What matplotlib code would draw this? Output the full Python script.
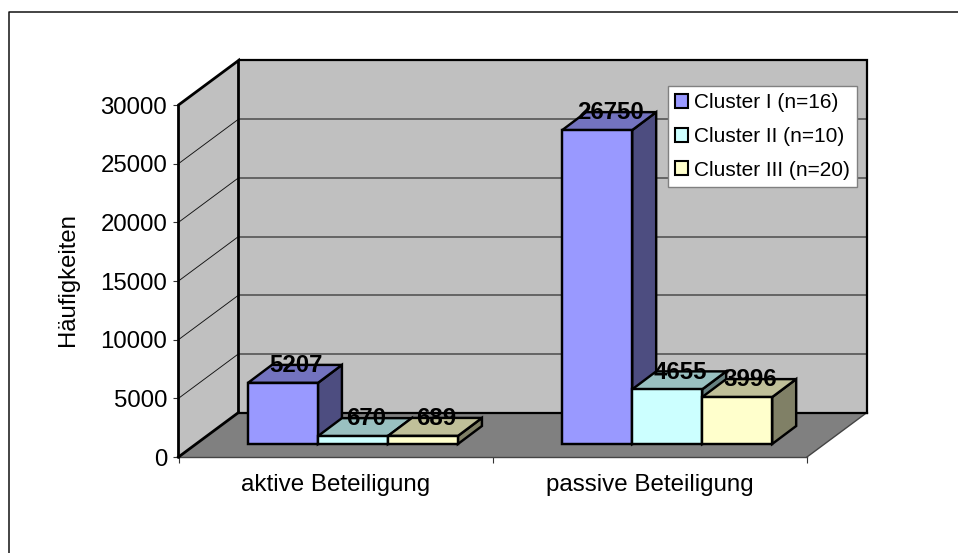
import numpy as np
import matplotlib
matplotlib.use("Agg")
import matplotlib.pyplot as plt
from matplotlib.lines import Line2D
from matplotlib.patches import Patch, Polygon

plt.rcParams["font.family"] = ["Liberation Sans", "DejaVu Sans"]

categories = ["aktive Beteiligung", "passive Beteiligung"]
series_names = ["Cluster I (n=16)", "Cluster II (n=10)", "Cluster III (n=20)"]
cluster_1 = [5207, 26750]
cluster_2 = [670, 4655]
cluster_3 = [689, 3996]
y_ticks = [0, 5000, 10000, 15000, 20000, 25000, 30000]

# front, top, side shades for each series
front_cols = ["#9999FF", "#CCFFFF", "#FFFFCC"]
top_cols = ["#7373BF", "#99C0C0", "#C0C099"]
side_cols = ["#4D4D80", "#668080", "#808066"]

W, H = 958, 553
fig = plt.figure(figsize=(W / 100, H / 100), dpi=100, facecolor="white")
ax = fig.add_axes([178.5 / W, (H - 457) / H, 628.5 / W, 352 / H])
ax.set_xlim(0, 2)
ax.set_ylim(0, 30000)
ax.patch.set_visible(False)
for spine in ax.spines.values():
    spine.set_visible(False)

# oblique offsets of the 3D box, in data units
depth_x, depth_y = 60 / 314.25, 44.5 * 30000 / 352
bar_dx, bar_dy = 24 / 314.25, 18 * 30000 / 352
lift_x, lift_y = 17.3 / 314.25, 13 * 30000 / 352
bar_w = 70 / 314.25
ymax = y_ticks[-1]


def poly(pts, fc, ec="none", lw=0, z=1):
    ax.add_patch(Polygon(pts, closed=True, facecolor=fc, edgecolor=ec, linewidth=lw,
                         joinstyle="miter", clip_on=False, zorder=z))


# walls and floor
poly([(0, 0), (depth_x, depth_y), (depth_x, ymax + depth_y), (0, ymax)], "#C0C0C0", z=1)
poly([(depth_x, depth_y), (2 + depth_x, depth_y), (2 + depth_x, ymax + depth_y), (depth_x, ymax + depth_y)],
     "#C0C0C0", z=1)
poly([(0, 0), (2, 0), (2 + depth_x, depth_y), (depth_x, depth_y)], "#808080", z=1)

# gridlines
for v in y_ticks[1:-1]:
    ax.plot([depth_x, 2 + depth_x], [v + depth_y] * 2, color="#505050", lw=1.15, clip_on=False, zorder=2)
    ax.plot([0, depth_x], [v, v + depth_y], color="#111111", lw=0.65, clip_on=False, zorder=2)

# box outline
ax.plot([0, 2], [0, 0], color="#444444", lw=1.0, clip_on=False, zorder=2)
ax.plot([2, 2 + depth_x], [0, depth_y], color="#444444", lw=1.0, clip_on=False, zorder=2)
ax.plot([depth_x, 2 + depth_x, 2 + depth_x], [ymax + depth_y, ymax + depth_y, depth_y],
        color="black", lw=1.6, clip_on=False, zorder=2, solid_joinstyle="miter")
ax.plot([depth_x, 2 + depth_x], [depth_y, depth_y], color="black", lw=1.6, clip_on=False, zorder=2)
ax.plot([0, 0, depth_x, depth_x], [0, ymax, ymax + depth_y, depth_y], color="black", lw=2.0,
        clip_on=False, zorder=3, solid_joinstyle="miter")
ax.plot([0, depth_x], [0, depth_y], color="black", lw=2.0, clip_on=False, zorder=3)

# bars, left to right so each one covers the side of the previous
z = 4
for c in range(len(categories)):
    for s, vals in enumerate([cluster_1, cluster_2, cluster_3]):
        x0 = c + 0.5 + (s - 1.5) * bar_w + lift_x
        x1 = x0 + bar_w
        y0 = lift_y
        y1 = lift_y + vals[c]
        poly([(x1, y0), (x1 + bar_dx, y0 + bar_dy), (x1 + bar_dx, y1 + bar_dy), (x1, y1)],
             side_cols[s], "black", 1.75, z)
        poly([(x0, y1), (x1, y1), (x1 + bar_dx, y1 + bar_dy), (x0 + bar_dx, y1 + bar_dy)],
             top_cols[s], "black", 1.75, z)
        poly([(x0, y0), (x1, y0), (x1, y1), (x0, y1)], front_cols[s], "black", 1.75, z)
        z += 1

# data labels sit over the top face
for c in range(len(categories)):
    for s, vals in enumerate([cluster_1, cluster_2, cluster_3]):
        xc = c + 0.5 + (s - 1) * bar_w + lift_x
        ax.annotate(str(vals[c]), xy=(xc, lift_y + vals[c]), xytext=(13 * 0.72, 17.3 * 0.72),
                    textcoords="offset points", ha="center", va="center",
                    fontsize=17.3, fontweight="bold", color="black", zorder=30,
                    annotation_clip=False)

# axes ticks and labels
ax.set_yticks(y_ticks)
ax.set_xticks([0, 1, 2])
ax.set_xticklabels([])
ax.set_xticks([0.5, 1.5], minor=True)
ax.set_xticklabels(categories, minor=True, fontsize=17.4)
ax.tick_params(axis="x", which="major", length=4.5, width=0.8, color="#333333")
ax.tick_params(axis="x", which="minor", length=0, pad=12.2)
ax.tick_params(axis="y", length=4.5, width=0.8, color="#333333", labelsize=17.25, pad=3.5)
ax.set_ylabel("Häufigkeiten", fontsize=17.2)
ax.yaxis.set_label_coords((79 - 178.5) / 628.5, (457 - 279.5) / 352)

# legend
handles = [Patch(facecolor=front_cols[i], edgecolor="black", linewidth=1.5) for i in range(3)]
leg = ax.legend(handles, series_names, loc="upper left",
                bbox_to_anchor=(667.7 / W, 1 - 86.3 / H), bbox_transform=fig.transFigure,
                fontsize=15, frameon=True, fancybox=False, framealpha=1, facecolor="white",
                edgecolor="#808080", borderaxespad=0, borderpad=0.34, labelspacing=0.7,
                handlelength=0.64, handleheight=0.64, handletextpad=0.3)
leg.get_frame().set_linewidth(1.0)
leg.set_zorder(20)

# outer chart frame runs off the right and bottom of the crop
fig.add_artist(Line2D([9 / W, 9 / W, 1], [0, 1 - 12 / H, 1 - 12 / H], color="#111111", lw=1.1))

fig.savefig("out.png", dpi=100, facecolor="white")
plt.close()
